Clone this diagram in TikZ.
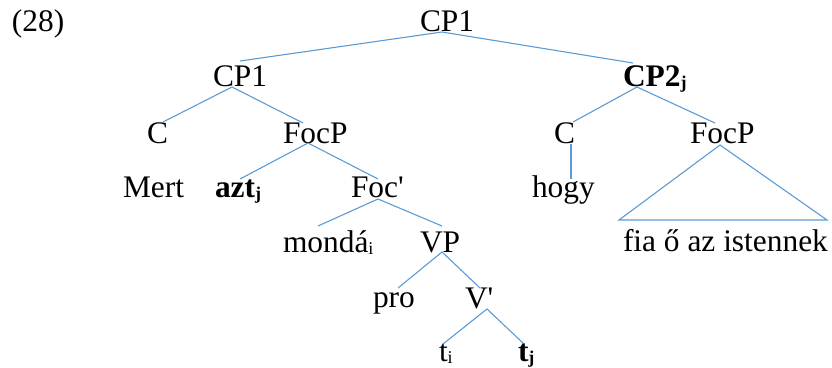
\documentclass[tikz,border=0pt]{standalone}
\usepackage{fontspec}
\setmainfont{Liberation Serif}
\usetikzlibrary{calc}
\definecolor{edgeblue}{HTML}{5B9BD5}
\newcommand\lsub[1]{\raisebox{-2pt}{\fontsize{18}{18}\selectfont #1}}
\tikzset{
  tx/.style={anchor=base west, inner sep=0pt, outer sep=0pt, font=\fontsize{31.4}{36}\selectfont},
  edge/.style={draw=edgeblue, line width=1.1pt}
}
\begin{document}
\begin{tikzpicture}[x=1pt,y=-1pt]
\useasboundingbox (0,0) rectangle (832,367);
\node[tx] (ex) at (12,31) {(28)};
\node[tx] (top) at (420,31) {CP1};
\node[tx] (cpl) at (213,86) {CP1};
\node[tx] (cp2) at (623,86) {\textbf{CP2\lsub{j}}};
\node[tx] (cl) at (147,143) {C};
\node[tx] (focl) at (283,143) {FocP};
\node[tx] (cr) at (554,143) {C};
\node[tx] (focr) at (690,143) {FocP};
\node[tx] (mert) at (123,197) {Mert};
\node[tx] (azt) at (215,197) {\textbf{azt\lsub{j}}};
\node[tx] (focb) at (351,197) {Foc\textquotesingle};
\node[tx] (hogy) at (532,197) {hogy};
\node[tx] (fia) at (623,251) {fia ő az istennek};
\node[tx] (monda) at (283,252) {mondá\lsub{i}};
\node[tx] (vp) at (420,252) {VP};
\node[tx] (pro) at (373,307) {pro};
\node[tx] (vbar) at (465,308) {V\textquotesingle};
\node[tx] (ti) at (439,361) {t\lsub{i}};
\node[tx] (tj) at (518,361) {\textbf{t\lsub{j}}};
% edges
\draw[edge] ($(cpl.base west)+(27,-25)$) -- ($(top.base west)+(22,1)$) -- ($(cp2.base west)+(10,-23)$);
\draw[edge] ($(cl.base west)+(16,-21)$) -- ($(cpl.base west)+(19,1)$) -- ($(focl.base west)+(20,-20)$);
\draw[edge] ($(cr.base west)+(19,-21)$) -- ($(cp2.base west)+(14,1)$) -- ($(focr.base west)+(25,-20)$);
\draw[edge] ($(azt.base west)+(25,-18)$) -- ($(focl.base west)+(25,0)$) -- ($(focb.base west)+(27,-18)$);
\draw[edge] ($(cr.base west)+(17,1)$) -- ($(hogy.base west)+(39,-18)$);
\draw[edge] ($(focr.base west)+(30,2)$) -- ($(fia.base west)+(-4,-31)$) -- ($(fia.base west)+(204,-31)$) -- cycle;
\draw[edge] ($(monda.base west)+(35,-26)$) -- ($(focb.base west)+(27,2)$) -- ($(vp.base west)+(22,-26)$);
\draw[edge] ($(pro.base west)+(25,-19)$) -- ($(vp.base west)+(22,0)$) -- ($(vbar.base west)+(15,-20)$);
\draw[edge] ($(ti.base west)+(4,-17)$) -- ($(vbar.base west)+(22,1)$) -- ($(tj.base west)+(5,-18)$);
\end{tikzpicture}
\end{document}
